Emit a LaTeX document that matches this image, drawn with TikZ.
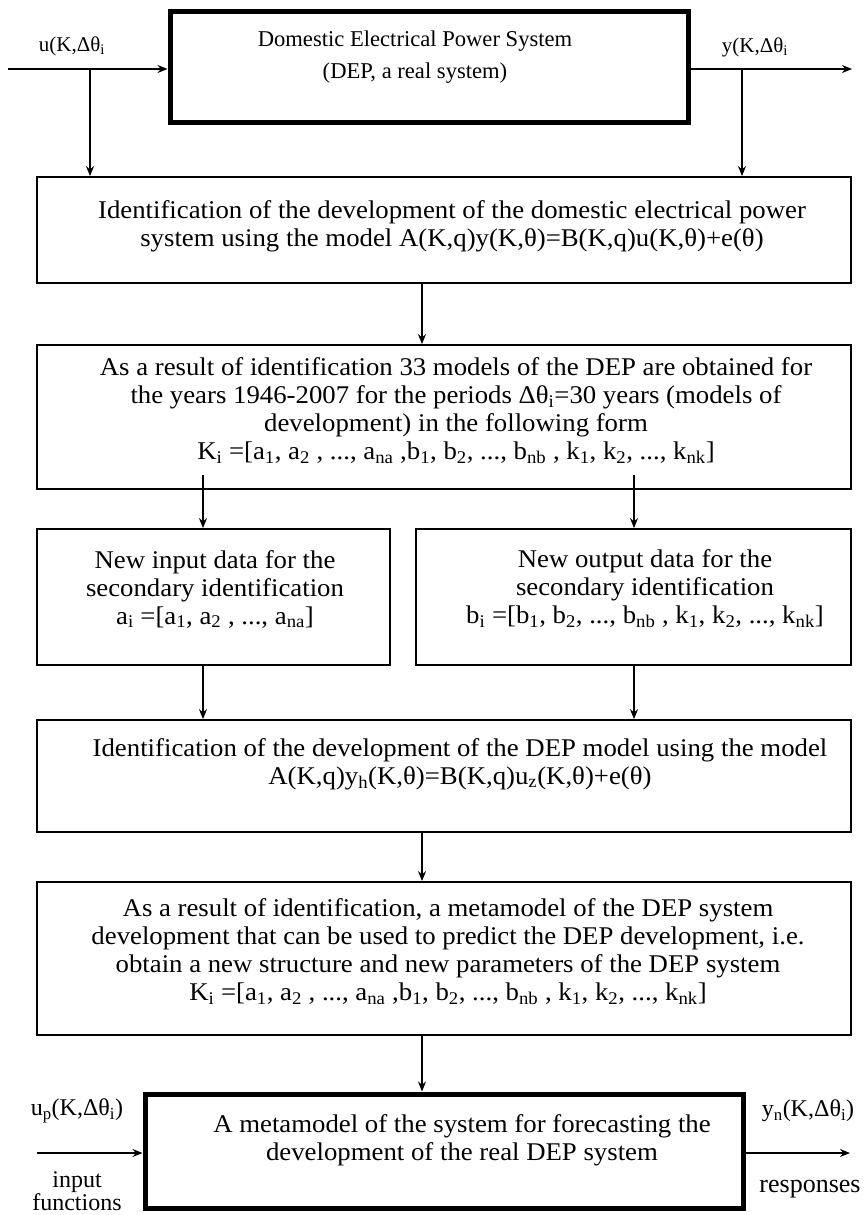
\documentclass[tikz,border=0pt]{standalone}
\usepackage{fontspec}
\setmainfont{Liberation Serif}
\newfontfamily\bodyfont[FakeStretch=1.05]{Liberation Serif}
\usetikzlibrary{arrows.meta}
\newcommand{\sbs}[1]{\textsubscript{#1}}
\begin{document}
\begin{tikzpicture}[x=1pt,y=-1pt,
  box/.style={draw,line width=1.8pt,inner sep=0pt},
  thickbox/.style={draw,line width=5pt,inner sep=0pt},
  txt/.style={align=center,inner sep=0pt,font=\bodyfont\fontsize{25.5}{28}\selectfont},
  toptxt/.style={align=center,inner sep=0pt,font=\fontsize{22.6}{32}\selectfont},
  lbl/.style={align=center,inner sep=0pt,font=\fontsize{21}{23}\selectfont},
  blbl/.style={align=center,inner sep=0pt,font=\fontsize{24}{22}\selectfont},
  arr/.style={-{Stealth[length=10pt,width=8pt]},line width=1.3pt}]
\useasboundingbox[fill=white] (0,0) rectangle (863,1215);

% boxes
\node[thickbox,minimum width=518pt,minimum height=110pt] (dep) at (429,67) {};
\node[box,minimum width=814pt,minimum height=106pt] (id1) at (444,230) {};
\node[box,minimum width=814pt,minimum height=144pt] (res1) at (444,417) {};
\node[box,minimum width=353pt,minimum height=136pt] (inL) at (213.5,597) {};
\node[box,minimum width=435pt,minimum height=136pt] (outR) at (633.5,597) {};
\node[box,minimum width=814pt,minimum height=112pt] (id2) at (444,776) {};
\node[box,minimum width=814pt,minimum height=153pt] (res2) at (444,958.5) {};
\node[thickbox,minimum width=598pt,minimum height=114pt] (meta) at (444,1151) {};

% texts
\node[toptxt] (tdep) at (415,57) {Domestic Electrical Power System\\(DEP, a real system)};
\node[txt] (tid1) at (452,226) {Identification of the development of the domestic electrical power\\system using the model A(K,q)y(K,θ)=B(K,q)u(K,θ)+e(θ)};
\node[txt] (tres1) at (456,411) {As a result of identification 33 models of the DEP are obtained for\\
the years 1946-2007 for the periods Δθ\sbs{i}=30 years (models of\\
development) in the following form\\
K\sbs{i} =[a\sbs{1}, a\sbs{2} , ..., a\sbs{na} ,b\sbs{1}, b\sbs{2}, ..., b\sbs{nb} , k\sbs{1}, k\sbs{2}, ..., k\sbs{nk}]};
\node[txt] (tinL) at (215,589) {New input data for the\\secondary identification\\a\sbs{i} =[a\sbs{1}, a\sbs{2} , ..., a\sbs{na}]};
\node[txt] (toutR) at (645,589) {New output data for the\\secondary identification\\b\sbs{i} =[b\sbs{1}, b\sbs{2}, ..., b\sbs{nb} , k\sbs{1}, k\sbs{2}, ..., k\sbs{nk}]};
\node[txt] (tid2) at (460,764) {Identification of the development of the DEP model using the model\\A(K,q)y\sbs{h}(K,θ)=B(K,q)u\sbs{z}(K,θ)+e(θ)};
\node[txt] (tres2) at (448,952) {As a result of identification, a metamodel of the DEP system\\
development that can be used to predict the DEP development, i.e.\\
obtain a new structure and new parameters of the DEP system\\
K\sbs{i} =[a\sbs{1}, a\sbs{2} , ..., a\sbs{na} ,b\sbs{1}, b\sbs{2}, ..., b\sbs{nb} , k\sbs{1}, k\sbs{2}, ..., k\sbs{nk}]};
\node[txt] (tmeta) at (462,1140) {A metamodel of the system for forecasting the\\development of the real DEP system};

% side labels
\node[lbl] (lu) at (72,46) {u(K,Δθ\sbs{i}};
\node[lbl] (ly) at (755,47) {y(K,Δθ\sbs{i}};
\node[blbl] (lup) at (77,1111) {u\sbs{p}(K,Δθ\sbs{i})};
\node[blbl] (lin) at (77,1191) {input\\functions};
\node[blbl] (lyn) at (808,1111) {y\sbs{n}(K,Δθ\sbs{i})};
\node[blbl,font=\fontsize{26}{28}\selectfont] (lresp) at (810,1189) {responses};

% connectors
\coordinate (inS) at (8,69);
\coordinate (inB) at (90,69);
\coordinate (outE) at (852,69);
\coordinate (outB) at (742,69);
\coordinate (kL) at (203,475);
\coordinate (kR) at (634,475);
\coordinate (mi) at (37,1153);
\coordinate (mo) at (850,1153);

\draw[arr] (inS) -- (dep.west |- inS);
\draw[arr] (inB) -- (inB |- id1.north);
\draw[arr] (dep.east |- outE) -- (outE);
\draw[arr] (outB) -- (outB |- id1.north);
\draw[arr] ([xshift=-22pt]id1.south) -- ([xshift=-22pt]res1.north);
\draw[arr] (kL) -- (kL |- inL.north);
\draw[arr] (kR) -- (kR |- outR.north);
\draw[arr] (kL |- inL.south) -- (kL |- id2.north);
\draw[arr] (kR |- outR.south) -- (kR |- id2.north);
\draw[arr] ([xshift=-22pt]id2.south) -- ([xshift=-22pt]res2.north);
\draw[arr] ([xshift=-22pt]res2.south) -- ([xshift=-22pt]meta.north);
\draw[arr] (mi) -- (meta.west |- mi);
\draw[arr] (meta.east |- mo) -- (mo);
\end{tikzpicture}
\end{document}
